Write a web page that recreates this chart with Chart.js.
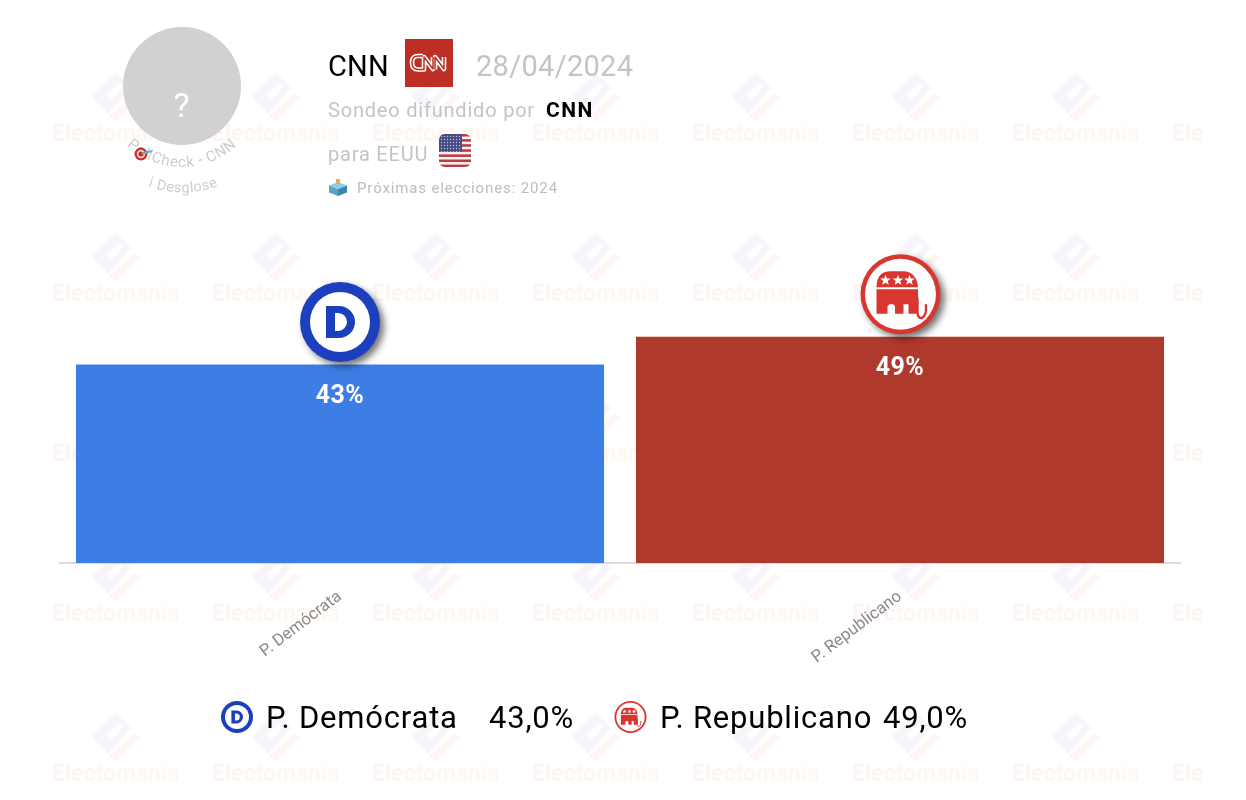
<!DOCTYPE html>
<html lang="es">
<head>
<meta charset="utf-8">
<title>CNN 28/04/2024</title>
<script src="https://cdn.jsdelivr.net/npm/chart.js@4"></script>
<style>
html,body{margin:0;padding:0;background:#fff;width:1246px;height:800px;overflow:hidden;font-family:Roboto,sans-serif}
#wrap{position:relative;width:1246px;height:800px}
canvas#c{position:absolute;left:0;top:0}
.t{position:absolute;white-space:nowrap;line-height:1}
svg.o{position:absolute;left:0;top:0;pointer-events:none}
</style>
</head>
<body>
<div id="wrap">
<canvas id="c" width="1246" height="800"></canvas>
<svg class="o" width="1246" height="800" viewBox="0 0 1246 800">
  <circle cx="182" cy="86" r="59" fill="#d2d1d1"/>
  <text x="181.5" y="117" text-anchor="middle" font-family="Roboto" font-size="34" fill="#fff">?</text>
  <defs>
    <path id="a1" d="M 122 140.4 A 81 81 0 0 0 242 140.4"/>
    <path id="a2" d="M 122 173 A 106 106 0 0 0 244 173"/>
    <clipPath id="fc"><rect x="439" y="134" width="32" height="33" rx="6"/></clipPath>
    <pattern id="st" x="440" y="135" width="3" height="3" patternUnits="userSpaceOnUse"><circle cx="1.5" cy="1.5" r=".7" fill="#c5c7dc"/></pattern>
  </defs>
  <text font-family="Roboto" font-size="15" fill="#cdcdcd" letter-spacing=".75"><textPath href="#a1" startOffset="50%" text-anchor="middle">PollCheck - CNN</textPath></text>
  <text font-family="Roboto" font-size="14.5" fill="#cdcdcd" letter-spacing=".4"><textPath href="#a2" startOffset="50%" text-anchor="middle">ℹ Desglose</textPath></text>
  <!-- target -->
  <circle cx="141" cy="154" r="6.5" fill="#c9302c"/><circle cx="141" cy="154" r="4.2" fill="#f3d6d0"/><circle cx="141" cy="154" r="2.6" fill="#c9302c"/>
  <path d="M142 153.5 L152 151" stroke="#5bb7c9" stroke-width="2.2"/>
  <!-- CNN logo -->
  <rect x="405" y="39" width="48" height="48" fill="#bd2f25"/>
  <g fill="none" stroke-linejoin="round">
    <path d="M423 56 H418 Q412 56 412 62.5 Q412 69.5 418 69.5 H424 V57 L433 69 V57 M435 69.5 V57 L444 69 V57" stroke="#fff" stroke-width="4.6"/>
    <path d="M423 56 H418 Q412 56 412 62.5 Q412 69.5 418 69.5 H424 V57 L433 69 V57 M435 69.5 V57 L444 69 V57" stroke="#bd2f25" stroke-width="1.5"/>
  </g>
  <!-- flag -->
  <g clip-path="url(#fc)">
    <rect x="439" y="134" width="32" height="33" fill="#f4f1f1"/>
    <g fill="#bf3a45">
      <rect x="439" y="134" width="32" height="2.5"/><rect x="439" y="139.1" width="32" height="2.5"/><rect x="439" y="144.2" width="32" height="2.5"/>
      <rect x="439" y="149.3" width="32" height="2.5"/><rect x="439" y="154.4" width="32" height="2.5"/><rect x="439" y="159.5" width="32" height="2.5"/><rect x="439" y="164.6" width="32" height="2.5"/>
    </g>
    <rect x="439" y="134" width="23" height="18" fill="#454a80"/>
    <rect x="439" y="134" width="23" height="18" fill="url(#st)"/>
  </g>
  <!-- ballot box -->
  <path d="M338 182 l9 3.5 l-9 3.5 l-9 -3.5z" fill="#8fd0e8"/>
  <path d="M329 185.5 l9 3.5 v7 l-9 -3.5z" fill="#5aa3c7"/><path d="M347 185.5 l-9 3.5 v7 l9 -3.5z" fill="#3f86ad"/>
  <rect x="336" y="179" width="4" height="5" fill="#e8a95a"/>
</svg>
<div class="t" style="left:328px;top:52px;font-size:29px;color:#000;letter-spacing:.2px" id="src">CNN</div>
<div class="t" style="left:476px;top:52px;font-size:29px;color:#c4c4c4;letter-spacing:.3px" id="date">28/04/2024</div>
<div class="t" style="left:328px;top:100px;font-size:20px;color:#c4c4c4;letter-spacing:.8px">Sondeo difundido por</div>
<div class="t" style="left:546px;top:100px;font-size:21px;color:#000;font-weight:700;letter-spacing:1.5px">CNN</div>
<div class="t" style="left:328px;top:144px;font-size:20px;color:#c4c4c4;letter-spacing:.8px">para EEUU</div>
<div class="t" style="left:357px;top:181px;font-size:15px;color:#bdbdbd;letter-spacing:.87px">Próximas elecciones: 2024</div>
<div id="legend"></div>
</div>
<script>
const categories = ["P. Demócrata", "P. Republicano"];
const values = [43, 49];
const barColors = ["#3d7ee6", "#b0392d"];
const yMax = 120;

function logoD(ctx, x, y, r) {
  const k = r / 40;
  ctx.save();
  ctx.beginPath(); ctx.arc(x, y, r, 0, Math.PI * 2); ctx.fillStyle = "#1c40bd"; ctx.fill();
  ctx.shadowColor = "transparent";
  ctx.beginPath(); ctx.arc(x, y, 30 * k, 0, Math.PI * 2); ctx.fillStyle = "#fff"; ctx.fill();
  ctx.fillStyle = "#1c40bd";
  ctx.beginPath();
  ctx.moveTo(x - 14 * k, y - 16 * k);
  ctx.lineTo(x - 1 * k, y - 16 * k);
  ctx.arc(x - 1 * k, y, 16 * k, -Math.PI / 2, Math.PI / 2);
  ctx.lineTo(x - 14 * k, y + 16 * k);
  ctx.closePath();
  ctx.moveTo(x - 5 * k, y - 9 * k);
  ctx.lineTo(x - 5 * k, y + 9 * k);
  ctx.lineTo(x - 2 * k, y + 9 * k);
  ctx.arc(x - 2 * k, y, 9 * k, Math.PI / 2, -Math.PI / 2, true);
  ctx.closePath();
  ctx.fill("evenodd");
  ctx.restore();
}
function star(ctx, x, y, r) {
  ctx.beginPath();
  for (let i = 0; i < 10; i++) {
    const a = -Math.PI / 2 + i * Math.PI / 5, q = i % 2 ? r * .42 : r;
    ctx.lineTo(x + q * Math.cos(a), y + q * Math.sin(a));
  }
  ctx.closePath(); ctx.fill();
}
function logoR(ctx, x, y, r) {
  const k = r / 40, red = "#d9362f";
  const P = (a, b) => [x + a * k, y + b * k];
  ctx.save();
  ctx.beginPath(); ctx.arc(x, y, r, 0, Math.PI * 2); ctx.fillStyle = red; ctx.fill();
  ctx.shadowColor = "transparent";
  ctx.beginPath(); ctx.arc(x, y, 35.5 * k, 0, Math.PI * 2); ctx.fillStyle = "#fff"; ctx.fill();
  ctx.fillStyle = red;
  // back of the elephant with stars
  ctx.beginPath();
  ctx.moveTo(...P(-24, -7));
  ctx.bezierCurveTo(...P(-24, -19), ...P(-18, -23), ...P(-10, -23));
  ctx.lineTo(...P(3, -23));
  ctx.bezierCurveTo(...P(12, -23), ...P(17, -16), ...P(17.5, -7));
  ctx.closePath(); ctx.fill();
  // lower body and legs
  ctx.beginPath();
  ctx.moveTo(...P(-24, -5)); ctx.lineTo(...P(17.5, -5)); ctx.lineTo(...P(17.5, 19.5));
  ctx.lineTo(...P(8, 19.5)); ctx.lineTo(...P(8, 10));
  ctx.lineTo(...P(3, 10)); ctx.lineTo(...P(3, 19.5)); ctx.lineTo(...P(-5.5, 19.5));
  ctx.lineTo(...P(-5.5, 12)); ctx.bezierCurveTo(...P(-7, 9), ...P(-11, 9), ...P(-13, 12));
  ctx.lineTo(...P(-13, 19.5)); ctx.lineTo(...P(-24, 19.5));
  ctx.closePath(); ctx.fill();
  // trunk
  ctx.strokeStyle = red; ctx.lineWidth = 2.4 * k; ctx.lineCap = "round";
  ctx.beginPath();
  ctx.moveTo(...P(17, 4));
  ctx.lineTo(...P(17, 18));
  ctx.bezierCurveTo(...P(17, 27), ...P(26.5, 26), ...P(25.5, 11));
  ctx.stroke();
  ctx.fillStyle = "#fff";
  [-15, -2.5, 9].forEach(a => star(ctx, ...P(a, -14), 5.6 * k));
  ctx.restore();
}
const logos = [logoD, logoR];

const watermark = {
  id: "watermark",
  beforeDraw(chart) {
    const ctx = chart.ctx;
    ctx.save();
    ctx.beginPath(); ctx.rect(0, 0, 1204, 800); ctx.clip();
    ctx.textBaseline = "middle"; ctx.textAlign = "left";
    ctx.font = "700 23px Roboto";
    for (let row = 0; row < 5; row++) for (let col = 0; col < 8; col++) {
      const x = 52 + col * 160, y = 133 + row * 160;
      const g = ctx.createLinearGradient(x, 0, x + 128, 0);
      g.addColorStop(0, "#fdf4f3"); g.addColorStop(1, "#fff8f2");
      ctx.fillStyle = g;
      ctx.fillText("Electomanía", x, y + 2);
      ctx.fillStyle = "#f8f5fa";
      ctx.beginPath();
      ctx.moveTo(x + 64, y - 60); ctx.lineTo(x + 79, y - 45); ctx.lineTo(x + 56, y - 19); ctx.lineTo(x + 40, y - 36);
      ctx.closePath();
      ctx.moveTo(x + 54, y - 38); ctx.lineTo(x + 68, y - 50); ctx.lineTo(x + 71, y - 46); ctx.lineTo(x + 58, y - 33);
      ctx.closePath();
      ctx.fill("evenodd");
      ctx.fillStyle = "#fdf6f3";
      ctx.beginPath();
      ctx.moveTo(x + 88, y - 36); ctx.lineTo(x + 64, y - 11); ctx.lineTo(x + 57, y - 18);
      ctx.lineTo(x + 63, y - 21); ctx.lineTo(x + 83, y - 40);
      ctx.closePath(); ctx.fill();
    }
    ctx.restore();
  }
};
const barDecor = {
  id: "barDecor",
  afterDatasetsDraw(chart) {
    const ctx = chart.ctx, meta = chart.getDatasetMeta(0);
    meta.data.forEach((bar, i) => {
      ctx.save();
      ctx.fillStyle = "#fff";
      ctx.font = "700 25px Roboto";
      ctx.letterSpacing = "0.4px";
      ctx.textAlign = "center"; ctx.textBaseline = "middle";
      ctx.fillText(values[i] + "%", bar.x, bar.y + 32);
      ctx.shadowColor = "rgba(0,0,0,.55)"; ctx.shadowBlur = 7; ctx.shadowOffsetX = 4; ctx.shadowOffsetY = 4;
      logos[i](ctx, bar.x + (i ? 0.5 : 0), bar.y - 42.5, 40);
      ctx.restore();
    });
    logos[0](ctx, 237, 717, 16);
    logos[1](ctx, 630.5, 717, 16);
  }
};

new Chart(document.getElementById("c"), {
  type: "bar",
  data: {
    labels: categories,
    datasets: [{ data: values, backgroundColor: barColors, borderWidth: 0,
      categoryPercentage: 1, barPercentage: 0.943 }]
  },
  options: {
    responsive: false, animation: false,
    layout: { padding: { left: 60, right: 66, top: 9, bottom: 0 } },
    plugins: { legend: { display: false }, tooltip: { enabled: false } },
    scales: {
      y: { display: false, min: 0, max: yMax },
      x: {
        afterFit(s) { s.height = 237; },
        grid: { display: false, drawTicks: false },
        border: { color: "#dcdcdc", width: 2 },
        ticks: { color: "#8a8a8a", font: { family: "Roboto", size: 16.6 }, minRotation: 37, maxRotation: 37, padding: 24 }
      }
    }
  },
  plugins: [watermark, barDecor]
});

const legendX = [[266, 489], [660, 883]];
const legend = document.getElementById("legend");
categories.forEach((c, i) => {
  const a = document.createElement("div");
  a.className = "t";
  a.style.cssText = `left:${legendX[i][0]}px;top:702px;font-size:31px;color:#000;letter-spacing:.8px`;
  a.textContent = c;
  const b = document.createElement("div");
  b.className = "t";
  b.style.cssText = `left:${legendX[i][1]}px;top:702px;font-size:31px;color:#000;letter-spacing:.8px`;
  b.textContent = values[i].toFixed(1).replace(".", ",") + "%";
  legend.append(a, b);
});
</script>
</body>
</html>
